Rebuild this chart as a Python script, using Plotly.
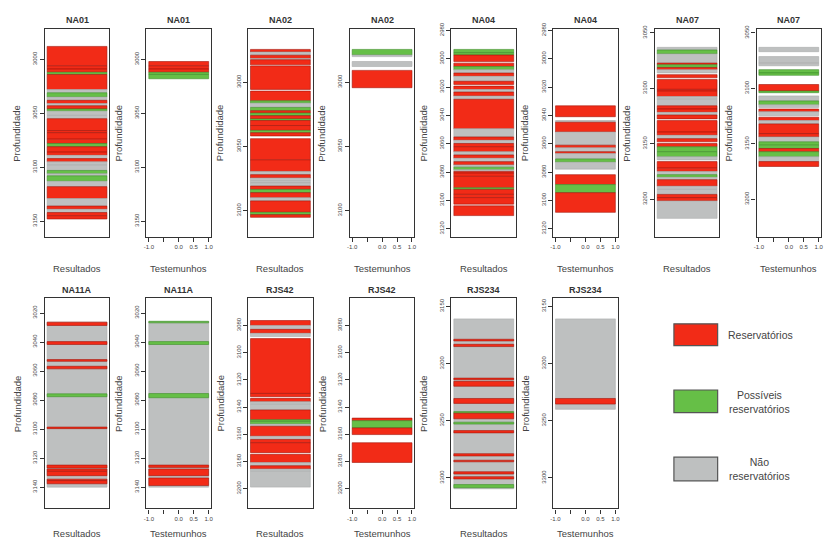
import plotly.graph_objects as go

# ---------------- data ----------------
# intervals: (top depth, bottom depth, class)  R=reservatório, P=possível, N=não reservatório
NA01_R = [(2988, 3006, 'R'), (3006, 3009, 'R'), (3009, 3012, 'R'), (3012, 3014, 'P'), (3014, 3028, 'R'),
          (3028, 3031, 'N'), (3031, 3035, 'P'), (3035, 3038, 'N'), (3038, 3041, 'R'), (3041, 3043, 'N'),
          (3043, 3046, 'R'), (3046, 3048, 'P'), (3048, 3052, 'N'), (3052, 3055, 'N'), (3055, 3066, 'R'),
          (3066, 3068, 'R'), (3068, 3074, 'R'), (3074, 3078, 'R'), (3078, 3081, 'P'), (3081, 3086, 'R'),
          (3086, 3089, 'R'), (3089, 3092, 'N'), (3092, 3095, 'R'), (3095, 3098, 'N'), (3098, 3103, 'N'),
          (3103, 3106, 'P'), (3106, 3108, 'N'), (3108, 3113, 'P'), (3113, 3118, 'N'), (3118, 3129, 'R'),
          (3129, 3136, 'N'), (3136, 3139, 'R'), (3139, 3142, 'N'), (3142, 3145, 'R'), (3145, 3148, 'R')]
NA01_T = [(3002, 3006, 'R'), (3006, 3009, 'R'), (3009, 3012, 'R'), (3012, 3014, 'P'), (3014, 3018, 'P')]

NA02_R = [(2974.5, 2976.5, 'R'), (2976.5, 2979, 'N'), (2979, 2981.5, 'R'), (2981.5, 2982.5, 'N'),
          (2982.5, 2986.5, 'R'), (2987.3, 3005.6, 'R'), (3006.9, 3014.5, 'R'), (3014.5, 3016.3, 'P'),
          (3016.3, 3019.6, 'N'), (3019.6, 3022.2, 'P'), (3022.2, 3024, 'R'), (3024, 3026, 'P'),
          (3026, 3028.6, 'R'), (3028.6, 3029.8, 'P'), (3029.8, 3033.7, 'R'), (3033.7, 3037.5, 'R'),
          (3037.5, 3039.3, 'P'), (3039.3, 3041.8, 'R'), (3043.9, 3060.4, 'R'), (3060.4, 3069.4, 'R'),
          (3069.4, 3071.9, 'N'), (3071.9, 3074.5, 'R'), (3074.5, 3076.5, 'N'), (3076.5, 3078.3, 'N'),
          (3078.3, 3080.8, 'N'), (3080.8, 3083.4, 'R'), (3083.4, 3085.9, 'P'), (3085.9, 3089.8, 'R'),
          (3089.8, 3092.3, 'N'), (3092.3, 3101.2, 'R'), (3101.2, 3103, 'P'), (3103, 3105.1, 'R')]
NA02_T = [(2974.5, 2978.8, 'P'), (2978.8, 2980.1, 'N'), (2983.9, 2987.8, 'N'), (2990.8, 3004.3, 'R')]

NA04_R = [(2993.4, 2995.7, 'P'), (2995.7, 2997.4, 'P'), (2997.4, 3002, 'R'), (3003.1, 3005.5, 'R'),
          (3005.5, 3007.8, 'P'), (3007.8, 3010.1, 'N'), (3010.1, 3012.4, 'R'), (3012.4, 3015.9, 'N'),
          (3015.9, 3018.2, 'R'), (3019.3, 3021.7, 'R'), (3021.7, 3023.5, 'N'), (3023.5, 3026.3, 'R'),
          (3026.3, 3028.6, 'N'), (3028.6, 3049.4, 'R'), (3049.4, 3055.2, 'N'), (3055.2, 3057.5, 'R'),
          (3057.5, 3059.8, 'N'), (3059.8, 3062.1, 'R'), (3062.1, 3065.6, 'R'), (3065.6, 3067.9, 'N'),
          (3067.9, 3070.2, 'R'), (3070.2, 3072.6, 'N'), (3072.6, 3074.9, 'R'), (3074.9, 3076.5, 'N'),
          (3076.5, 3078.3, 'P'), (3078.3, 3079.5, 'N'), (3079.5, 3080.7, 'R'), (3080.7, 3083, 'R'),
          (3083, 3091.1, 'R'), (3091.1, 3092.2, 'P'), (3092.2, 3095.7, 'R'), (3095.7, 3098, 'R'),
          (3098, 3102.6, 'R'), (3103.8, 3110.7, 'R')]
NA04_T = [(3033.2, 3040.9, 'R'), (3043.6, 3044.8, 'N'), (3044.8, 3051.7, 'R'), (3051.7, 3061, 'N'),
          (3061, 3062.8, 'R'), (3062.8, 3065.6, 'N'), (3065.6, 3066.8, 'R'), (3066.8, 3070.7, 'N'),
          (3070.7, 3073, 'P'), (3073, 3077.9, 'N'), (3081.8, 3088.8, 'R'), (3088.8, 3094.5, 'P'),
          (3094.5, 3108.4, 'R')]

NA07_R = [(3063, 3065.4, 'N'), (3065.4, 3068.9, 'P'), (3068.9, 3077.2, 'N'), (3077.2, 3078.7, 'R'),
          (3078.7, 3081.1, 'P'), (3081.1, 3083.1, 'R'), (3083.1, 3086.1, 'N'), (3087.6, 3090.5, 'R'),
          (3092, 3100.9, 'R'), (3100.9, 3102.4, 'R'), (3102.4, 3107.4, 'R'), (3107.4, 3109.8, 'N'),
          (3109.8, 3115.7, 'N'), (3115.7, 3118.6, 'R'), (3118.6, 3121.6, 'R'), (3121.6, 3124, 'N'),
          (3124, 3127.5, 'R'), (3129, 3139.4, 'R'), (3139.4, 3142.3, 'R'), (3142.3, 3145.3, 'N'),
          (3145.3, 3148.2, 'R'), (3149.7, 3152.7, 'R'), (3152.7, 3157.1, 'P'), (3157.1, 3161.6, 'P'),
          (3161.6, 3164.5, 'N'), (3166, 3171.9, 'R'), (3171.9, 3174.9, 'R'), (3174.9, 3177.8, 'N'),
          (3177.8, 3180.2, 'P'), (3180.2, 3182.3, 'N'), (3182.3, 3188.2, 'R'), (3188.2, 3191.1, 'N'),
          (3191.1, 3195.6, 'N'), (3195.6, 3198.5, 'R'), (3198.5, 3201.5, 'R'), (3201.5, 3217.2, 'N')]
NA07_T = [(3063, 3066.9, 'N'), (3071.3, 3077.2, 'N'), (3077.2, 3079.6, 'N'), (3083.1, 3086.1, 'P'),
          (3086.1, 3088.2, 'P'), (3096.5, 3102.4, 'R'), (3102.4, 3103.9, 'P'), (3106.8, 3111.3, 'N'),
          (3111.3, 3114.8, 'P'), (3114.8, 3117.2, 'N'), (3118.6, 3121, 'R'), (3121, 3124.6, 'N'),
          (3126, 3129, 'R'), (3129, 3132, 'N'), (3132, 3140.8, 'R'), (3140.8, 3143.8, 'R'),
          (3143.8, 3148.2, 'N'), (3148.2, 3151.2, 'P'), (3151.2, 3154.2, 'P'), (3154.2, 3157.1, 'R'),
          (3157.1, 3161.6, 'P'), (3161.6, 3166, 'N'), (3166, 3170.4, 'R')]

NA11A_R = [(3026.3, 3140, 'N'), (3026.3, 3028.6, 'R'), (3039.7, 3041.7, 'R'), (3052.1, 3053.3, 'R'),
           (3056.7, 3058.5, 'R'), (3075.7, 3077.7, 'P'), (3098.6, 3099.7, 'R'), (3124.8, 3126.9, 'R'),
           (3127.5, 3129.1, 'R'), (3129.1, 3132.1, 'R'), (3134.5, 3135.5, 'R'), (3135.5, 3137.7, 'R')]
NA11A_T = [(3026, 3140, 'N'), (3025.7, 3026.8, 'P'), (3039.7, 3041.7, 'P'), (3075.5, 3078.4, 'P'),
           (3124.8, 3126.4, 'R'), (3127.5, 3132.1, 'R'), (3133.7, 3138.9, 'R')]

RJS42_R = [(3076.4, 3080, 'R'), (3080, 3082.9, 'N'), (3082.9, 3085.8, 'R'), (3085.8, 3088.2, 'N'),
           (3089.7, 3130, 'R'), (3130, 3132.4, 'R'), (3133.6, 3136, 'R'), (3136, 3138, 'N'),
           (3138, 3142.1, 'N'), (3142.1, 3149.3, 'R'), (3149.3, 3150.5, 'P'), (3150.5, 3152.5, 'P'),
           (3152.5, 3154.1, 'N'), (3154.1, 3161.4, 'R'), (3161.4, 3163.8, 'N'), (3163.8, 3166.2, 'R'),
           (3166.2, 3173.5, 'R'), (3174.7, 3180.7, 'R'), (3180.7, 3183.1, 'N'), (3183.1, 3185.5, 'R'),
           (3185.5, 3187.2, 'N'), (3187.2, 3198.8, 'N')]
RJS42_T = [(3148.1, 3150, 'R'), (3150, 3155.3, 'P'), (3155.3, 3160.2, 'R'), (3166.2, 3180.7, 'R')]

RJS234_R = [(3160.9, 3309.5, 'N'), (3178.7, 3180.2, 'R'), (3183.1, 3185.1, 'R'), (3212.7, 3214.1, 'R'),
            (3215.5, 3219.8, 'R'), (3230.5, 3234.8, 'R'), (3242, 3243.4, 'P'), (3243.4, 3248.3, 'R'),
            (3251.2, 3252.9, 'P'), (3258.6, 3260.6, 'R'), (3278.8, 3280.8, 'R'), (3284.5, 3285.9, 'R'),
            (3294.6, 3296.6, 'R'), (3298.9, 3300.9, 'R'), (3305.8, 3308.6, 'P')]
RJS234_T = [(3160.9, 3240, 'N'), (3230.5, 3235.4, 'R')]

panel_data = [NA01_R, NA01_T, NA02_R, NA02_T, NA04_R, NA04_T, NA07_R, NA07_T,
              NA11A_R, NA11A_T, RJS42_R, RJS42_T, RJS234_R, RJS234_T]
panel_titles = ["NA01", "NA01", "NA02", "NA02", "NA04", "NA04", "NA07", "NA07",
                "NA11A", "NA11A", "RJS42", "RJS42", "RJS234", "RJS234"]
panel_kind = ["Resultados", "Testemunhos"] * 7

well_yrange = [[3164.7, 2971.6], [3120.4, 2958.4], [3125.8, 2978.8], [3234.0, 3046.2],
               [3154.7, 3009.8], [3214.5, 3060.0], [3326.7, 3142.8]]
well_yticks = [[3000, 3050, 3100, 3150],
               [3000, 3050, 3100],
               [2980, 3000, 3020, 3040, 3060, 3080, 3100, 3120],
               [3050, 3100, 3150, 3200],
               [3020, 3040, 3060, 3080, 3100, 3120, 3140],
               [3080, 3100, 3120, 3140, 3160, 3180, 3200],
               [3150, 3200, 3250, 3300]]

x_tickvals = [-1.0, -0.5, 0.0, 0.5, 1.0]
x_ticktext = ["-1.0", "", "0.0", "0.5", "1.0"]

legend_labels = ["Reservatórios", "Possíveis<br>reservatórios", "Não<br>reservatórios"]
legend_classes = ["R", "P", "N"]

COLORS = {'R': '#F22B17', 'P': '#66BF47', 'N': '#BEC0C0'}
EDGES = {'R': '#A3160C', 'P': '#3F8F2C', 'N': '#A9ABAB'}

# ---------------- layout constants (pixels) ----------------
W, H = 825, 544
BOX_W = 65
PITCH = 102.3
LEFT0 = 42
ROWS = [(22, 233), (295, 508)]
XTITLE_Y = [265, 533]
FONT = "Liberation Sans, Arial, sans-serif"


def px(x):
    return x / W


def py(y):
    return 1 - y / H


fig = go.Figure()
layout = dict(width=W, height=H, margin=dict(l=0, r=0, t=0, b=0),
              paper_bgcolor="white", plot_bgcolor="white", showlegend=False,
              barmode="overlay", font=dict(family=FONT, color="#333"), hovermode=False)
annotations = []
shapes = []

for i, data in enumerate(panel_data):
    row = 0 if i < 8 else 1
    col = i if i < 8 else i - 8
    well = i // 2
    left = LEFT0 + PITCH * col
    right = left + BOX_W
    top, bottom = ROWS[row]
    ax = "" if i == 0 else str(i + 1)

    centers = [(a + b) / 2 for a, b, c in data]
    thick = [b - a for a, b, c in data]
    fig.add_trace(go.Bar(
        orientation="h", y=centers, x=[2.0] * len(data), base=[-1.0] * len(data), width=thick,
        marker=dict(color=[COLORS[c] for a, b, c in data],
                    line=dict(color=[EDGES[c] for a, b, c in data], width=0.6)),
        xaxis="x" + ax, yaxis="y" + ax, hoverinfo="skip"))

    is_t = panel_kind[i] == "Testemunhos"
    layout["xaxis" + ax] = dict(
        domain=[px(left), px(right)], anchor="y" + ax, range=[-1.08, 1.08],
        showgrid=False, zeroline=False, showline=True, mirror=True, linecolor="#333", linewidth=1.2,
        tickvals=x_tickvals if is_t else [], ticktext=x_ticktext if is_t else [],
        ticks="outside" if is_t else "", ticklen=4, tickcolor="#333",
        showticklabels=is_t, tickfont=dict(size=6, color="#444"), fixedrange=True)
    layout["yaxis" + ax] = dict(
        domain=[py(bottom), py(top)], anchor="x" + ax, range=well_yrange[well],
        showgrid=False, zeroline=False, showline=True, mirror=True, linecolor="#333", linewidth=1.2,
        tickvals=well_yticks[well], ticktext=[str(v) for v in well_yticks[well]],
        ticks="outside", ticklen=4, tickcolor="#333", tickangle=-90,
        tickfont=dict(size=6, color="#444"), fixedrange=True)

    cx = (left + right) / 2
    annotations.append(dict(text="<b>" + panel_titles[i] + "</b>", x=px(cx), y=py(top - 8.5),
                            xref="paper", yref="paper", showarrow=False, xanchor="center",
                            yanchor="middle", font=dict(size=9, color="#333")))
    annotations.append(dict(text="Profundidade", x=px(left - 28), y=py((top + bottom) / 2),
                            xref="paper", yref="paper", showarrow=False, textangle=-90,
                            xanchor="center", yanchor="middle", font=dict(size=9.5, color="#444")))
    annotations.append(dict(text=panel_kind[i], x=px(cx), y=py(XTITLE_Y[row]),
                            xref="paper", yref="paper", showarrow=False, xanchor="center",
                            yanchor="middle", font=dict(size=9.5, color="#444")))

# legend
LEG_X0, LEG_X1 = 675, 719
LEG_Y = [(321, 343), (388, 411), (456, 480)]
for k, cls in enumerate(legend_classes):
    y0, y1 = LEG_Y[k]
    shapes.append(dict(type="rect", xref="paper", yref="paper", x0=px(LEG_X0), x1=px(LEG_X1),
                       y0=py(y1), y1=py(y0), fillcolor=COLORS[cls],
                       line=dict(color="#555", width=1.2)))
    if k == 0:
        annotations.append(dict(text=legend_labels[k], x=px(727), y=py((y0 + y1) / 2), xref="paper",
                                yref="paper", showarrow=False, xanchor="left", yanchor="middle",
                                font=dict(size=10.5, color="#444")))
    else:
        annotations.append(dict(text=legend_labels[k], x=px(761), y=py((y0 + y1) / 2 + 0.5),
                                xref="paper", yref="paper", showarrow=False, xanchor="center",
                                yanchor="middle", align="center",
                                font=dict(size=10.5, color="#444")))

layout["annotations"] = annotations
layout["shapes"] = shapes
fig.update_layout(**layout)
fig.write_html("out.html", config={"displayModeBar": False})
